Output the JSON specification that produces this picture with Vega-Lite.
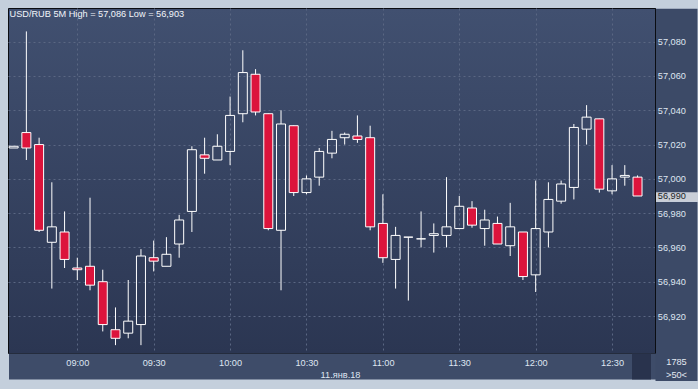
{
  "$schema": "https://vega.github.io/schema/vega-lite/v6.json",
  "width": 647,
  "height": 345,
  "autosize": {"type": "none"},
  "padding": {"left": 8, "top": 8, "right": 43, "bottom": 36},
  "background": "#c4cfdc",
  "title": {
    "text": "USD/RUB 5M High = 57,086 Low = 56,903",
    "anchor": "start",
    "frame": "group",
    "baseline": "top",
    "offset": -11.5,
    "dx": 1.5,
    "color": "#f2f5fa",
    "font": "Liberation Sans",
    "fontSize": 9.2,
    "fontWeight": "normal"
  },
  "config": {
    "view": {
      "fill": {"gradient": "linear", "x1": 0, "y1": 0, "x2": 0, "y2": 1,
        "stops": [{"offset": 0, "color": "#415070"}, {"offset": 1, "color": "#2b3652"}]},
      "stroke": "#0b0d12",
      "strokeWidth": 1
    },
    "axis": {
      "labelFont": "Liberation Sans",
      "labelFontSize": 9.2,
      "titleFont": "Liberation Sans",
      "titleFontSize": 9.2,
      "titleFontWeight": "normal",
      "labelOverlap": false,
      "labelFlush": false
    }
  },
  "data": {
    "values": [
      {"t": "2018-01-11T08:35", "open": 57.018, "high": 57.019, "low": 57.018, "close": 57.019},
      {"t": "2018-01-11T08:40", "open": 57.027, "high": 57.086, "low": 57.011, "close": 57.018},
      {"t": "2018-01-11T08:45", "open": 57.020, "high": 57.024, "low": 56.969, "close": 56.970},
      {"t": "2018-01-11T08:50", "open": 56.963, "high": 56.998, "low": 56.936, "close": 56.972},
      {"t": "2018-01-11T08:55", "open": 56.969, "high": 56.981, "low": 56.948, "close": 56.953},
      {"t": "2018-01-11T09:00", "open": 56.948, "high": 56.954, "low": 56.941, "close": 56.947},
      {"t": "2018-01-11T09:05", "open": 56.949, "high": 56.989, "low": 56.935, "close": 56.938},
      {"t": "2018-01-11T09:10", "open": 56.940, "high": 56.947, "low": 56.911, "close": 56.915},
      {"t": "2018-01-11T09:15", "open": 56.912, "high": 56.925, "low": 56.903, "close": 56.907},
      {"t": "2018-01-11T09:20", "open": 56.910, "high": 56.941, "low": 56.907, "close": 56.917},
      {"t": "2018-01-11T09:25", "open": 56.915, "high": 56.959, "low": 56.903, "close": 56.955},
      {"t": "2018-01-11T09:30", "open": 56.954, "high": 56.964, "low": 56.946, "close": 56.952},
      {"t": "2018-01-11T09:35", "open": 56.949, "high": 56.966, "low": 56.949, "close": 56.956},
      {"t": "2018-01-11T09:40", "open": 56.962, "high": 56.979, "low": 56.954, "close": 56.976},
      {"t": "2018-01-11T09:45", "open": 56.981, "high": 57.019, "low": 56.969, "close": 57.017},
      {"t": "2018-01-11T09:50", "open": 57.014, "high": 57.024, "low": 57.003, "close": 57.012},
      {"t": "2018-01-11T09:55", "open": 57.011, "high": 57.026, "low": 57.011, "close": 57.019},
      {"t": "2018-01-11T10:00", "open": 57.016, "high": 57.048, "low": 57.008, "close": 57.037},
      {"t": "2018-01-11T10:05", "open": 57.038, "high": 57.075, "low": 57.033, "close": 57.062},
      {"t": "2018-01-11T10:10", "open": 57.061, "high": 57.064, "low": 57.037, "close": 57.039},
      {"t": "2018-01-11T10:15", "open": 57.038, "high": 57.038, "low": 56.970, "close": 56.971},
      {"t": "2018-01-11T10:20", "open": 56.970, "high": 57.040, "low": 56.935, "close": 57.032},
      {"t": "2018-01-11T10:25", "open": 57.031, "high": 57.031, "low": 56.990, "close": 56.992},
      {"t": "2018-01-11T10:30", "open": 56.992, "high": 57.002, "low": 56.991, "close": 57.000},
      {"t": "2018-01-11T10:35", "open": 57.001, "high": 57.018, "low": 56.996, "close": 57.016},
      {"t": "2018-01-11T10:40", "open": 57.015, "high": 57.028, "low": 57.012, "close": 57.023},
      {"t": "2018-01-11T10:45", "open": 57.024, "high": 57.027, "low": 57.020, "close": 57.026},
      {"t": "2018-01-11T10:50", "open": 57.025, "high": 57.037, "low": 57.021, "close": 57.023},
      {"t": "2018-01-11T10:55", "open": 57.024, "high": 57.031, "low": 56.970, "close": 56.972},
      {"t": "2018-01-11T11:00", "open": 56.974, "high": 56.991, "low": 56.951, "close": 56.954},
      {"t": "2018-01-11T11:05", "open": 56.953, "high": 56.972, "low": 56.936, "close": 56.967},
      {"t": "2018-01-11T11:10", "open": 56.966, "high": 56.966, "low": 56.929, "close": 56.966},
      {"t": "2018-01-11T11:15", "open": 56.965, "high": 56.981, "low": 56.960, "close": 56.965},
      {"t": "2018-01-11T11:20", "open": 56.967, "high": 56.974, "low": 56.957, "close": 56.968},
      {"t": "2018-01-11T11:25", "open": 56.967, "high": 57.001, "low": 56.960, "close": 56.972},
      {"t": "2018-01-11T11:30", "open": 56.971, "high": 56.990, "low": 56.971, "close": 56.984},
      {"t": "2018-01-11T11:35", "open": 56.983, "high": 56.987, "low": 56.9715, "close": 56.973},
      {"t": "2018-01-11T11:40", "open": 56.971, "high": 56.982, "low": 56.961, "close": 56.976},
      {"t": "2018-01-11T11:45", "open": 56.974, "high": 56.978, "low": 56.962, "close": 56.962},
      {"t": "2018-01-11T11:50", "open": 56.961, "high": 56.986, "low": 56.955, "close": 56.972},
      {"t": "2018-01-11T11:55", "open": 56.969, "high": 56.969, "low": 56.941, "close": 56.943},
      {"t": "2018-01-11T12:00", "open": 56.944, "high": 56.999, "low": 56.934, "close": 56.971},
      {"t": "2018-01-11T12:05", "open": 56.969, "high": 56.998, "low": 56.960, "close": 56.988},
      {"t": "2018-01-11T12:10", "open": 56.987, "high": 56.999, "low": 56.9855, "close": 56.997},
      {"t": "2018-01-11T12:15", "open": 56.995, "high": 57.032, "low": 56.988, "close": 57.030},
      {"t": "2018-01-11T12:20", "open": 57.029, "high": 57.043, "low": 57.020, "close": 57.036},
      {"t": "2018-01-11T12:25", "open": 57.035, "high": 57.035, "low": 56.992, "close": 56.994},
      {"t": "2018-01-11T12:30", "open": 56.993, "high": 57.008, "low": 56.991, "close": 57.000},
      {"t": "2018-01-11T12:35", "open": 57.001, "high": 57.008, "low": 56.996, "close": 57.002},
      {"t": "2018-01-11T12:40", "open": 57.001, "high": 57.002, "low": 56.990, "close": 56.990}
    ]
  },
  "encoding": {
    "x": {
      "field": "t",
      "type": "temporal",
      "scale": {
        "domain": [
          {"year": 2018, "month": 1, "date": 11, "hours": 8, "minutes": 34, "seconds": 45},
          {"year": 2018, "month": 1, "date": 11, "hours": 12, "minutes": 44, "seconds": 54}
        ]
      },
      "axis": {
        "orient": "bottom",
        "offset": 0,
        "tickCount": 60,
        "values": [
          {"year": 2018, "month": 1, "date": 11, "hours": 10, "minutes": 39, "seconds": 50},
          {"year": 2018, "month": 1, "date": 11, "hours": 12, "minutes": 41, "seconds": 14},
          {"year": 2018, "month": 1, "date": 11, "hours": 9, "minutes": 0},
          {"year": 2018, "month": 1, "date": 11, "hours": 9, "minutes": 30},
          {"year": 2018, "month": 1, "date": 11, "hours": 10, "minutes": 0},
          {"year": 2018, "month": 1, "date": 11, "hours": 10, "minutes": 30},
          {"year": 2018, "month": 1, "date": 11, "hours": 11, "minutes": 0},
          {"year": 2018, "month": 1, "date": 11, "hours": 11, "minutes": 30},
          {"year": 2018, "month": 1, "date": 11, "hours": 12, "minutes": 0},
          {"year": 2018, "month": 1, "date": 11, "hours": 12, "minutes": 30}
        ],
        "labelExpr": "seconds(datum.value) != 0 ? '' : timeFormat(datum.value, '%H:%M')",
        "domain": false,
        "ticks": true,
        "tickSize": 26,
        "tickWidth": {"condition": {"test": "minutes(datum.value) == 39", "value": 647}, "value": 19},
        "tickColor": {"condition": {"test": "minutes(datum.value) == 41", "value": "#29334d"}, "value": "#3e4c69"},
        "tickOpacity": {"condition": {"test": "seconds(datum.value) == 0", "value": 0}, "value": 1},
        "grid": true,
        "gridColor": {"condition": {"test": "seconds(datum.value) != 0", "value": "transparent"}, "value": "#5a6783"},
        "gridDash": [2, 3],
        "gridWidth": 1,
        "labelOverlap": false,
        "labelPadding": -20.4,
        "labelBaseline": "top",
        "labelAlign": "center",
        "labelColor": "#dfe6f1",
        "title": "11.янв.18",
        "titleX": 332,
        "titleY": 17.3,
        "titleAlign": "center",
        "titleBaseline": "top",
        "titleColor": "#dfe6f1"
      }
    }
  },
  "layer": [
    {
      "mark": {"type": "rule", "color": "#ffffff", "strokeWidth": 1, "clip": true},
      "encoding": {
        "y": {
          "field": "high",
          "type": "quantitative",
          "scale": {"domain": [56.89842, 57.09966], "zero": false, "nice": false},
          "axis": {
            "orient": "right",
            "tickCount": 60,
            "values": [57.04617, 56.93482, 56.99, 56.92, 56.94, 56.96, 56.98, 57.0, 57.02, 57.04, 57.06, 57.08],
            "title": ["1785", ">50<"],
            "titleAngle": 0,
            "titleAlign": "center",
            "titleBaseline": "top",
            "titleX": 21,
            "titleY": 349.3,
            "titleLineHeight": 13,
            "titleColor": "#e3e9f2",
            "domain": true,
            "domainColor": "#0b0d12",
            "domainWidth": 1,
            "ticks": true,
            "tickSize": 42,
            "tickWidth": {"condition": [
              {"test": "abs(datum.value - 57.04617) < 0.000001", "value": 183.5},
              {"test": "abs(datum.value - 56.93482) < 0.000001", "value": 179}
            ], "value": 10},
            "tickColor": {"condition": {"test": "abs(datum.value - 56.99) < 0.000001", "value": "#c9ced7"}, "value": "#3c4a67"},
            "tickOpacity": {"condition": {"test": "abs(datum.value * 50 - round(datum.value * 50)) < 0.000001", "value": 0}, "value": 1},
            "grid": true,
            "gridColor": {"condition": {"test": "abs(datum.value * 50 - round(datum.value * 50)) < 0.000001", "value": "#5a6783"}, "value": "transparent"},
            "gridDash": [2, 3],
            "gridWidth": 1,
            "labelOverlap": false,
            "labelExpr": "(abs(datum.value * 50 - round(datum.value * 50)) < 0.000001 || abs(datum.value - 56.99) < 0.000001) ? replace(format(datum.value, '.3f'), '.', ',') : ''",
            "labelColor": {"condition": {"test": "abs(datum.value - 56.99) < 0.000001", "value": "#1b1f27"}, "value": "#dfe6f1"},
            "labelPadding": -39.7,
            "labelAlign": "left",
            "labelBaseline": "middle"
          }
        },
        "y2": {"field": "close"}
      }
    },
    {
      "mark": {"type": "rule", "color": "#ffffff", "strokeWidth": 1, "clip": true},
      "encoding": {
        "y": {"field": "low", "type": "quantitative"},
        "y2": {"field": "open"}
      }
    },
    {
      "mark": {"type": "bar", "size": 9, "stroke": "#ffffff", "strokeWidth": 1, "clip": true},
      "encoding": {
        "y": {"field": "open", "type": "quantitative"},
        "y2": {"field": "close"},
        "fill": {"condition": {"test": "datum.close < datum.open", "value": "#dc143c"}, "value": "transparent"}
      }
    }
  ]
}
